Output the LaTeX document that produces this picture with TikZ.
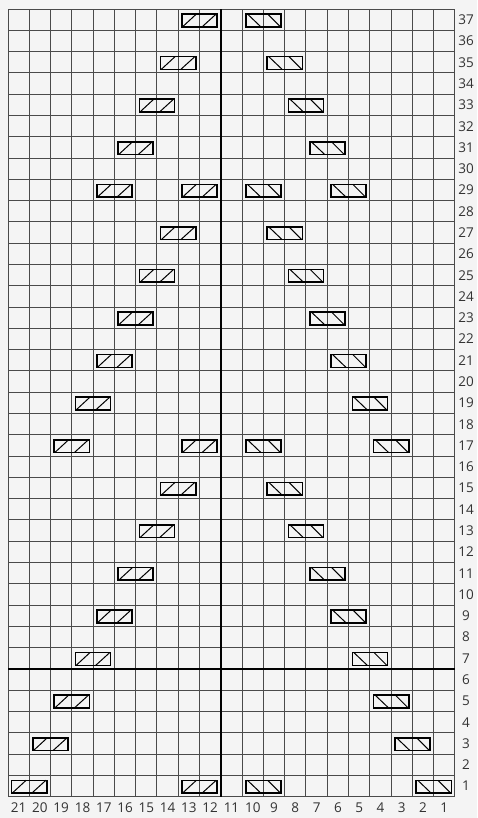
\documentclass[tikz,border=0pt]{standalone}
\usepackage{fontspec}
\setmainfont{Open Sans}
\definecolor{bg}{HTML}{F4F4F4}
\definecolor{gridc}{HTML}{4A4A4A}
\definecolor{txt}{HTML}{333333}
\tikzset{
  gridline/.style={draw=gridc, line width=1.0pt},
  heavyline/.style={draw=black, line width=1.8pt},
  cabbox/.style={draw=black, line width=1.6pt},
  cabdiag/.style={draw=black, line width=1.0pt},
  lab/.style={font=\fontsize{13.5}{13.5}\selectfont, text=txt, inner sep=0pt}
}
\begin{document}
\begin{tikzpicture}[x=1pt,y=1pt]
\path[fill=bg, use as bounding box] (0,0) rectangle (477,818);
\begin{scope}[shift={(8,21.3)}, x=21.285pt, y=21.285pt]
  \foreach \c in {0,...,21}{ \draw[gridline] (\c,0) -- (\c,37); }
  \foreach \r in {0,...,37}{ \draw[gridline] (0,\r) -- (21,\r); }
  \draw[heavyline] (10,0) -- (10,37);
  \draw[heavyline] (0,6) -- (21,6);
  % left-leaning cables (/)
  \foreach \r/\k [evaluate=\k as \i using 21-\k] in {1/21,1/13,3/20,5/19,7/18,9/17,11/16,13/15,15/14,17/19,17/13,19/18,21/17,23/16,25/15,27/14,29/17,29/13,31/16,33/15,35/14,37/13}{
    \draw[cabbox] (\i+0.17,\r-0.83) rectangle (\i+1.82,\r-0.23);
    \draw[cabdiag] (\i+0.2,\r-0.83) -- (\i+0.85,\r-0.23);
    \draw[cabdiag] (\i+1.12,\r-0.83) -- (\i+1.78,\r-0.23);
  }
  % right-leaning cables (\)
  \foreach \r/\k [evaluate=\k as \i using 21-\k] in {1/10,1/2,3/3,5/4,7/5,9/6,11/7,13/8,15/9,17/10,17/4,19/5,21/6,23/7,25/8,27/9,29/10,29/6,31/7,33/8,35/9,37/10}{
    \draw[cabbox] (\i+0.18,\r-0.83) rectangle (\i+1.83,\r-0.23);
    \draw[cabdiag] (\i+0.25,\r-0.23) -- (\i+0.88,\r-0.83);
    \draw[cabdiag] (\i+1.2,\r-0.23) -- (\i+1.8,\r-0.83);
  }
  % row numbers
  \foreach \r in {1,...,37}{
    \node[lab] (row\r) at (21.52,\r-0.5) {\r};
  }
  % column numbers
  \foreach \k in {1,...,21}{
    \node[lab] (col\k) at (21-\k+0.5,-0.53) {\k};
  }
\end{scope}
\end{tikzpicture}
\end{document}
